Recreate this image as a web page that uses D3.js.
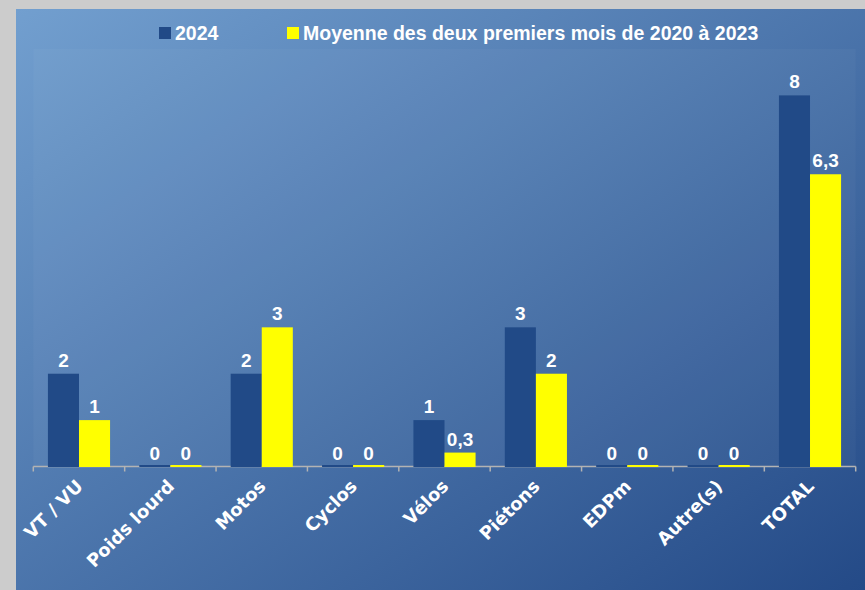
<!DOCTYPE html>
<html>
<head>
<meta charset="utf-8">
<script src="https://cdn.jsdelivr.net/npm/d3@7"></script>
<style>
    body { margin: 0; background: #cccccc; }
    text { font-family: "Liberation Sans", Arial, sans-serif; font-weight: bold; fill: #ffffff; }
    .axis text { font-family: "DejaVu Sans", sans-serif; }
</style>
</head>
<body>
<svg id="chart" width="865" height="590"></svg>
<script>
"use strict";
// data
const categories = ["VT / VU", "Poids lourd", "Motos", "Cyclos", "Vélos", "Piétons", "EDPm", "Autre(s)", "TOTAL"];
const series = ["2024", "Moyenne des deux premiers mois de 2020 à 2023"];
const values2024 = [2, 0, 2, 0, 1, 3, 0, 0, 8];
const valuesMoyenne = [1, 0, 3, 0, 0.3, 2, 0, 0, 6.3];
const colors = ["#214a87", "#ffff00"];

const svg = d3.select("#chart");
const width = 865, height = 590;

// background with diagonal gradient
const defs = svg.append("defs");
const grad = defs.append("linearGradient")
    .attr("id", "bg")
    .attr("x1", "0%").attr("y1", "0%")
    .attr("x2", "100%").attr("y2", "100%");
grad.append("stop").attr("offset", "0%").attr("stop-color", "#729fcf");
grad.append("stop").attr("offset", "100%").attr("stop-color", "#244a87");

svg.append("rect").attr("width", width).attr("height", height).attr("fill", "#cccccc");
svg.append("rect")
    .attr("x", 16).attr("y", 9)
    .attr("width", width - 16).attr("height", height - 9)
    .attr("fill", "url(#bg)");

const plot = {left: 33.3, right: 855.7, top: 49, bottom: 466.5};

// plot area, slightly lighter
svg.append("rect")
    .attr("x", plot.left).attr("y", plot.top)
    .attr("width", plot.right - plot.left).attr("height", plot.bottom - plot.top)
    .attr("fill", "#ffffff").attr("fill-opacity", 0.03);

const x = d3.scaleBand()
    .domain(categories)
    .range([plot.left, plot.right]);

const x1 = d3.scaleBand()
    .domain(series)
    .range([x.bandwidth() * 0.16, x.bandwidth() * 0.84]);

const y = d3.scaleLinear()
    .domain([0, 9])
    .range([plot.bottom, plot.top]);

// axis line with ticks at band edges (under the bars)
const axis = svg.append("g").attr("class", "axis");
axis.append("line")
    .attr("x1", plot.left).attr("x2", plot.right)
    .attr("y1", y(0)).attr("y2", y(0))
    .attr("stroke", "#b3b3b3").attr("stroke-width", 1.5);
const edges = categories.map((c) => x(c)).concat([plot.right]);
axis.selectAll("line.tick")
    .data(edges)
    .enter().append("line")
    .attr("class", "tick")
    .attr("x1", (d) => d).attr("x2", (d) => d)
    .attr("y1", y(0)).attr("y2", y(0) + 5)
    .attr("stroke", "#b3b3b3").attr("stroke-width", 1.5);

axis.selectAll("text")
    .data(categories)
    .enter().append("text")
    .attr("text-anchor", "end")
    .style("font-size", "18px")
    .attr("transform", (d) => "translate(" + (x(d) + x.bandwidth() / 2 + 5) + "," + (y(0) + 21) + ") rotate(-45)")
    .text((d) => d);

const rows = categories.map((c, i) => ({
    cat: c,
    vals: [
        {s: series[0], v: values2024[i]},
        {s: series[1], v: valuesMoyenne[i]}
    ]
}));

const fmt = (v) => String(v).replace(".", ",");

const group = svg.selectAll(".cat")
    .data(rows)
    .enter().append("g")
    .attr("class", "cat")
    .attr("transform", (d) => "translate(" + x(d.cat) + ",0)");

group.selectAll("rect")
    .data((d) => d.vals)
    .enter().append("rect")
    .attr("x", (d) => x1(d.s))
    .attr("width", x1.bandwidth())
    .attr("y", (d) => Math.min(y(d.v), y(0) - 1.5))
    .attr("height", (d) => Math.max(y(0) - y(d.v), 1.5) + 0.5)
    .attr("fill", (d, i) => colors[i]);

group.selectAll("text.value")
    .data((d) => d.vals)
    .enter().append("text")
    .attr("class", "value")
    .attr("x", (d) => x1(d.s) + x1.bandwidth() / 2)
    .attr("y", (d) => y(d.v) - 7)
    .attr("text-anchor", "middle")
    .style("font-size", "19px")
    .text((d) => fmt(d.v));

// legend
const legend = svg.append("g").attr("class", "legend");
const legendX = [159, 287];
legend.selectAll("rect")
    .data(series)
    .enter().append("rect")
    .attr("x", (d, i) => legendX[i])
    .attr("y", 27)
    .attr("width", 12).attr("height", 12)
    .attr("fill", (d, i) => colors[i]);
legend.selectAll("text")
    .data(series)
    .enter().append("text")
    .attr("x", (d, i) => legendX[i] + 16)
    .attr("y", 40)
    .style("font-size", "19.5px")
    .text((d) => d);
</script>
</body>
</html>
